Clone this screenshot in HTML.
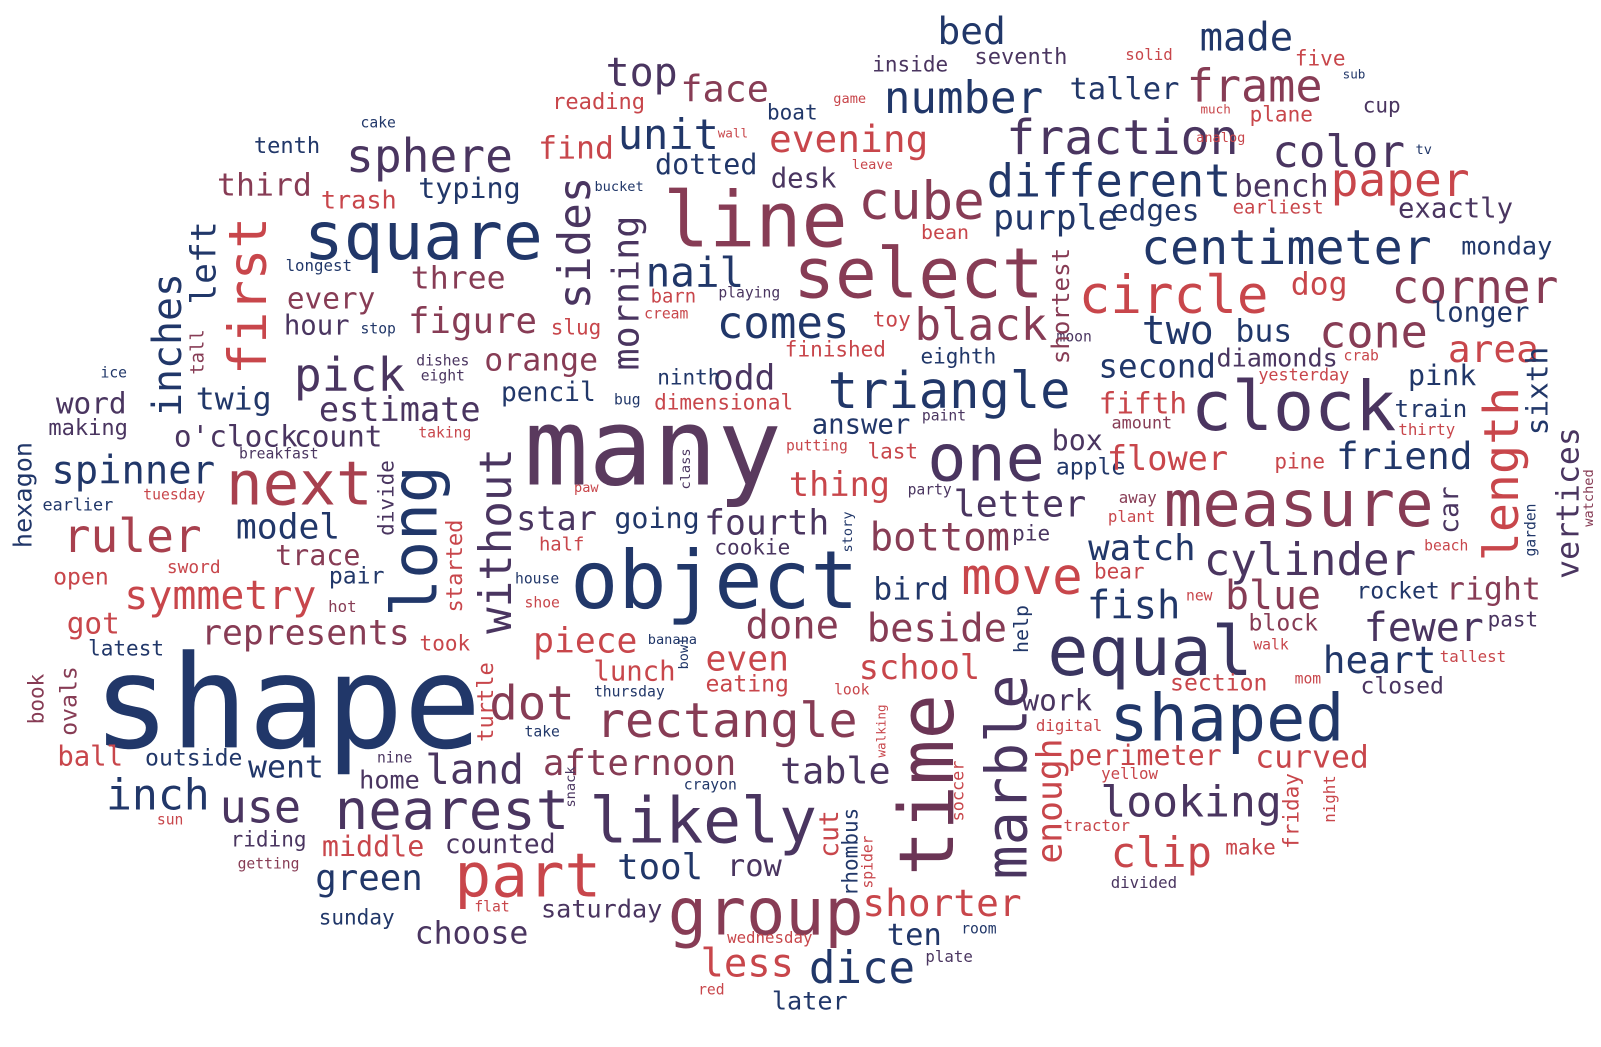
<!DOCTYPE html>
<html><head><meta charset="utf-8">
<style>
html,body{margin:0;padding:0;background:#fff;}
#cloud{position:relative;width:1601px;height:1047px;overflow:hidden;background:#fff;font-family:"DejaVu Sans Mono","Liberation Mono",monospace;}
#cloud span{position:absolute;white-space:nowrap;line-height:1;}
</style></head>
<body>
<div id="cloud"></div>
<script>
const N="#213769",P="#4a3560",M="#873c55",R="#c8464b";
// [word, centerX, centerY, fontSize, color, vertical]
const words=[
["shape",280,690,123,N,0],["many",637,440,102,"#5a3a5e",0],["object",697,570,76,N,0],["line",737,218,73,M,0],
["square",413,232,63,N,0],["select",896,270,66,M,0],["next",292,475,58,"#a8404e",0],["ruler",129,525,44,"#a8404e",0],
["clock",1262,400,65,P,0],["one",962,450,62,P,0],["measure",1267,495,61,M,0],["equal",1122,640,65,"#3a3560",0],
["shaped",1197,705,62,N,0],["part",515,860,58,R,0],["likely",686,805,60,P,0],["group",747,895,62,M,0],
["nearest",441,795,53,P,0],["cube",899,198,50,M,0],["number",940,97,42,N,0],["fraction",1095,135,46,P,0],
["different",1082,177,43,N,0],["centimeter",1255,243,46,N,0],["circle",1145,290,50,R,0],["corner",1439,281,44,M,0],
["triangle",926,383,48,N,0],["black",957,320,42,M,0],["comes",764,318,42,N,0],["nail",678,268,39,N,0],
["unit",652,132,40,N,0],["face",707,88,35,M,0],["top",626,73,38,P,0],["sphere",419,153,44,P,0],
["evening",828,137,36,R,0],["frame",1224,84,43,M,0],["color",1306,150,42,P,0],["paper",1366,176,44,R,0],
["made",1216,38,37,N,0],["bed",948,31,36,N,0],["taller",1097,88,29,N,0],["purple",1030,215,33,N,0],
["edges",1127,207,28,N,0],["bench",1250,183,30,P,0],["exactly",1420,205,26,P,0],["monday",1470,241,24,N,0],
["two",1149,325,38,N,0],["cone",1340,325,43,M,0],["area",1457,343,36,R,0],["longer",1444,307,26,N,0],
["dog",1287,279,30,R,0],["second",1129,360,31,N,0],["bus",1233,325,30,N,0],["diamonds",1246,351,24,P,0],
["pink",1407,369,27,N,0],["train",1396,401,23,N,0],["sixth",1500,383,28,N,1],["thirty",1392,422,15,R,0],
["yesterday",1272,368,16,R,0],["length",1465,465,46,R,1],["vertices",1531,493,30,P,1],["watched",1551,488,13,M,1],
["garden",1495,520,14,N,1],["friend",1370,448,36,N,0],["car",1415,500,25,P,1],["beach",1411,536,14,R,0],
["right",1457,578,30,M,0],["rocket",1364,580,22,N,0],["past",1476,608,20,P,0],["fewer",1389,617,38,P,0],
["heart",1346,648,36,N,0],["tallest",1437,644,15,R,0],["closed",1368,674,22,P,0],["cylinder",1278,550,42,P,0],
["blue",1242,585,38,M,0],["block",1252,612,22,M,0],["walk",1240,633,14,R,0],["section",1189,671,22,R,0],
["mom",1276,667,14,R,0],["fish",1106,595,37,N,0],["watch",1114,538,34,N,0],["letter",995,495,35,P,0],
["box",1051,432,27,P,0],["apple",1064,459,22,N,0],["away",1110,488,15,M,0],["plant",1104,507,15,R,0],
["bear",1092,561,20,R,0],["new",1170,585,14,R,0],["pie",1006,524,20,P,0],["move",997,566,48,R,0],
["bottom",917,528,37,M,0],["beside",914,618,37,M,0],["bird",889,578,30,N,0],["school",897,655,32,R,0],
["help",997,617,19,N,1],["work",1031,687,28,P,0],["marble",983,762,54,P,1],["enough",1025,785,33,R,1],
["perimeter",1117,741,27,R,0],["curved",1280,743,30,R,0],["looking",1162,787,41,P,0],["clip",1133,836,40,R,0],
["yellow",1102,759,15,R,0],["tractor",1070,810,15,R,0],["make",1220,831,20,R,0],["friday",1260,795,20,R,1],
["night",1298,783,15,R,1],["divided",1116,866,15,P,0],["digital",1043,712,15,R,0],["time",905,770,72,"#6b3555",1],
["shorter",919,886,36,R,0],["ten",892,918,29,N,0],["rhombus",830,835,20,N,1],["spider",848,845,14,R,1],
["soccer",935,775,16,R,1],["walking",860,717,12,R,1],["room",955,912,14,N,0],["plate",926,938,15,P,0],
["cut",810,818,25,R,1],["row",736,850,29,P,0],["table",815,757,35,P,0],["tool",644,851,34,N,0],
["dice",841,950,42,N,0],["less",729,946,37,R,0],["later",790,981,24,N,0],["wednesday",751,920,15,R,0],
["red",694,972,14,R,0],["crayon",693,771,14,N,0],["even",729,647,33,R,0],["lunch",619,659,26,R,0],
["eating",729,672,22,R,0],["look",831,677,14,R,0],["done",773,615,37,M,0],["fourth",748,514,33,P,0],
["thing",819,475,32,R,0],["cookie",734,537,20,P,0],["piece",571,629,33,R,0],["afternoon",624,749,34,M,0],
["rectangle",709,707,46,M,0],["dot",519,690,45,M,0],["turtle",475,688,21,R,1],["started",445,555,21,R,1],
["without",485,530,42,P,1],["star",543,509,32,P,0],["going",641,509,27,N,0],["long",405,530,60,N,1],
["half",548,534,18,R,0],["paw",572,479,13,R,0],["house",524,569,14,N,0],["shoe",529,592,14,R,0],
["banana",656,628,13,N,0],["bowl",668,640,13,N,1],["story",828,522,13,N,1],["thursday",614,679,14,N,0],
["take",529,719,14,N,0],["snack",558,772,13,P,1],["saturday",587,891,24,P,0],["nine",385,744,14,P,0],
["land",463,755,39,P,0],["home",380,765,24,P,0],["went",279,753,30,N,0],["inch",154,780,41,N,0],
["use",254,791,43,P,0],["outside",189,744,22,N,0],["ball",88,742,26,R,0],["book",36,685,20,M,1],
["ovals",68,687,22,M,1],["latest",123,636,20,N,0],["got",91,612,28,R,0],["open",79,567,22,R,0],
["sword",189,557,17,R,0],["symmetry",215,585,38,R,0],["represents",298,622,33,M,0],["pair",348,566,22,N,0],
["hot",334,595,15,M,0],["took",434,631,20,R,0],["trace",310,545,27,M,0],["model",281,518,33,N,0],
["divide",378,488,20,P,1],["spinner",130,463,37,N,0],["earlier",76,495,16,N,0],["tuesday",170,486,14,R,0],
["hexagon",22,485,24,N,1],["breakfast",272,446,14,P,0],["making",86,421,21,P,0],["word",89,396,28,P,0],
["ice",111,367,14,N,0],["o'clock",230,428,28,P,0],["count",330,428,28,P,0],["taking",434,425,14,R,0],
["twig",228,392,30,N,0],["estimate",390,402,32,P,0],["pick",341,368,44,P,0],["inches",165,338,38,N,1],
["left",200,258,33,N,1],["tall",193,345,18,M,1],["first",243,290,50,R,1],["longest",311,261,15,N,0],
["stop",369,324,14,N,0],["dishes",432,355,14,P,0],["eight",432,370,14,P,0],["hour",309,320,26,P,0],
["every",323,293,28,M,0],["three",447,274,30,M,0],["figure",461,316,34,M,0],["slug",562,322,20,R,0],
["orange",528,354,30,M,0],["pencil",535,385,25,N,0],["bug",612,393,14,N,0],["dimensional",706,395,20,R,0],
["odd",726,372,33,P,0],["answer",840,417,26,N,0],["putting",797,438,14,R,0],["paint",921,409,14,P,0],
["last",871,443,20,R,0],["party",907,481,14,P,0],["class",670,460,13,P,1],["ninth",672,371,20,N,0],
["eighth",935,350,20,N,0],["finished",815,343,20,R,0],["toy",870,314,20,R,0],["moon",1048,331,14,P,0],
["crab",1328,350,14,R,0],["amount",1114,415,16,M,0],["fifth",1115,396,28,R,0],["flower",1139,450,32,R,0],
["pine",1268,453,20,R,0],["shortest",1035,300,23,M,1],["playing",731,288,14,P,0],["cream",650,309,14,R,0],
["barn",657,291,18,R,0],["morning",612,287,35,P,1],["sides",562,238,42,P,1],["typing",458,185,27,N,0],
["trash",350,196,24,R,0],["third",258,182,30,M,0],["tenth",280,144,21,N,0],["cake",369,122,14,N,0],
["reading",584,101,21,R,0],["find",562,146,30,R,0],["dotted",689,162,27,N,0],["desk",784,175,26,P,0],
["boat",773,111,20,N,0],["wall",715,131,12,R,0],["game",829,98,13,R,0],["leave",851,163,13,R,0],
["bucket",604,184,13,N,0],["bean",922,228,19,R,0],["inside",888,64,20,P,0],["seventh",996,57,21,P,0],
["solid",1121,54,15,R,0],["five",1288,58,20,R,0],["sub",1321,74,12,N,0],["much",1186,108,12,R,0],
["plane",1250,113,20,R,0],["cup",1348,104,20,P,0],["tv",1389,148,13,N,0],["analog",1191,136,13,R,0],
["earliest",1247,204,18,R,0],["sun",166,805,14,R,0],["riding",262,824,20,P,0],["getting",262,848,14,M,0],
["middle",364,830,27,R,0],["counted",488,828,25,P,0],["green",360,862,34,N,0],["sunday",348,900,20,N,0],
["choose",460,916,30,P,0],["flat",480,890,14,R,0]
];
const SX=1.025, SY=1.02, F=1.05;
const cloud=document.getElementById('cloud');
for(const w of words){
  const el=document.createElement('span');
  el.textContent=w[0];
  el.style.left=(w[1]*SX)+'px';
  el.style.top=(w[2]*SY)+'px';
  el.style.fontSize=(w[3]*F)+'px';
  el.style.color=w[4];
  el.style.transform='translate(-50%,-50%)'+(w[5]?' rotate(-90deg)':'');
  
  
  cloud.appendChild(el);
}
</script>
</body></html>
